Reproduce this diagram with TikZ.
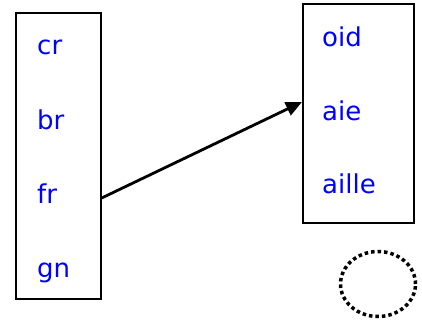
\documentclass[tikz,border=0pt]{standalone}
\usepackage{fontspec}
\setmainfont{DejaVu Sans}
\usetikzlibrary{arrows.meta,shapes.geometric}

\begin{document}
\begin{tikzpicture}[x=1pt,y=-1pt,
    word/.style={text=blue, font=\fontsize{26}{30}\selectfont, anchor=base west, inner sep=0pt},
    column/.style={draw, line width=1.7pt, anchor=north west, inner sep=0pt}]
  \useasboundingbox (0,0) rectangle (422,321);
  % the two columns
  \node[column, minimum width=85pt, minimum height=286pt] (onset) at (15,12) {};
  \node[column, minimum width=111pt, minimum height=219pt] (rime) at (302,3) {};
  % onsets
  \node[word] (cr) at (37,55) {cr};
  \node[word] (br) at (37,129) {br};
  \node[word] (fr) at (37,203) {fr};
  \node[word] (gn) at (37,277) {gn};
  % rimes
  \node[word] (oid) at (322,47) {oid};
  \node[word] (aie) at (322,120) {aie};
  \node[word] (aille) at (322,193) {aille};
  \coordinate (from) at (onset.east |- 0,198);
  \coordinate (to) at (rime.west |- 0,102);
  \draw[line width=2.8pt, -{Triangle[length=16pt,width=14pt]}] (from) -- (to);
  % the empty slot
  \node[draw, ellipse, line width=3.5pt, dash pattern=on 3.5pt off 3pt,
    minimum width=75pt, minimum height=65pt, inner sep=0pt] (slot) at (378,284) {};
\end{tikzpicture}
\end{document}
